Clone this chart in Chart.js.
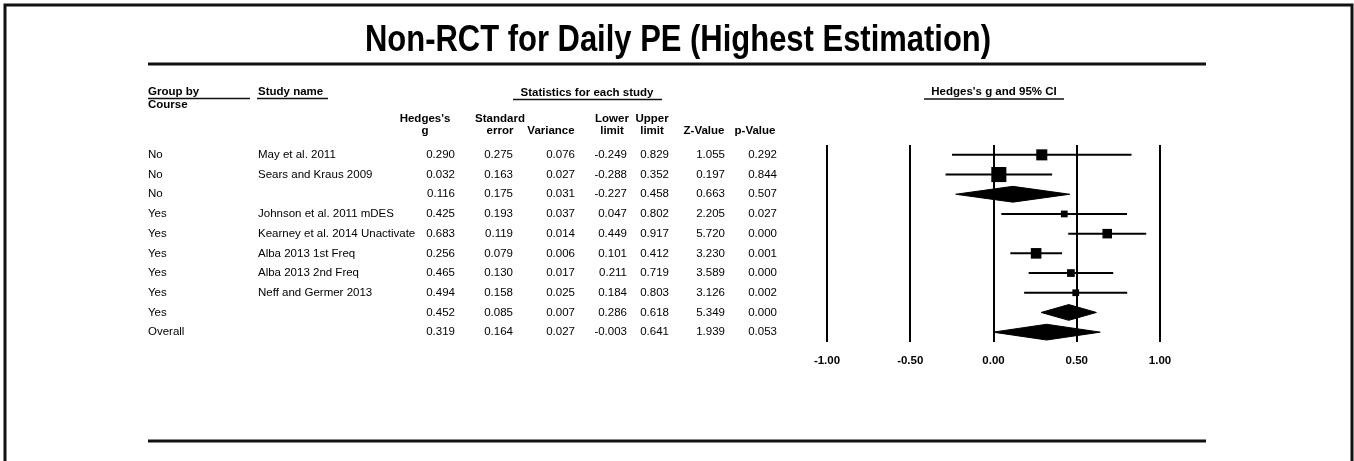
<!DOCTYPE html>
<html>
<head>
<meta charset="utf-8">
<script src="https://cdn.jsdelivr.net/npm/chart.js@4.4.1/dist/chart.umd.min.js"></script>
<style>
  html, body { margin: 0; padding: 0; background: #fff; }
  #wrap { width: 1354px; height: 461px; }
</style>
</head>
<body>
<div id="wrap"><canvas id="myChart" width="1354" height="461"></canvas></div>
<script>
//Table data, one entry per row (top to bottom)
const groups = ['No', 'No', 'No', 'Yes', 'Yes', 'Yes', 'Yes', 'Yes', 'Yes', 'Overall'];
const studies = ['May et al. 2011', 'Sears and Kraus 2009', '', 'Johnson et al. 2011 mDES',
   'Kearney et al. 2014 Unactivate', 'Alba 2013 1st Freq', 'Alba 2013 2nd Freq', 'Neff and Germer 2013', '', ''];
const hedgesG = [0.290, 0.032, 0.116, 0.425, 0.683, 0.256, 0.465, 0.494, 0.452, 0.319];
const stdError = [0.275, 0.163, 0.175, 0.193, 0.119, 0.079, 0.130, 0.158, 0.085, 0.164];
const variance = [0.076, 0.027, 0.031, 0.037, 0.014, 0.006, 0.017, 0.025, 0.007, 0.027];
const lowerLimit = [-0.249, -0.288, -0.227, 0.047, 0.449, 0.101, 0.211, 0.184, 0.286, -0.003];
const upperLimit = [0.829, 0.352, 0.458, 0.802, 0.917, 0.412, 0.719, 0.803, 0.618, 0.641];
const zValue = [1.055, 0.197, 0.663, 2.205, 5.720, 3.230, 3.589, 3.126, 5.349, 1.939];
const pValue = [0.292, 0.844, 0.507, 0.027, 0.000, 0.001, 0.000, 0.002, 0.000, 0.053];
//relative weight inside its subgroup (%), null for summary rows
const relWeight = [35, 65, null, 13, 26, 32, 17, 13, null, null];
const xTicks = [-1, -0.5, 0, 0.5, 1];

const FONT = '"Liberation Sans", Arial, sans-serif';
const rowOf = i => i + 1;
const isSummary = i => studies[i] === '';

//Build datasets from the arrays
const datasets = [];
hedgesG.forEach((g, i) => {
   if (isSummary(i)) {
      const h = 0.4; // half height of the diamond in row units
      datasets.push({
         type: 'line',
         data: [
            {x: lowerLimit[i], y: rowOf(i)},
            {x: g, y: rowOf(i) - h},
            {x: upperLimit[i], y: rowOf(i)},
            {x: g, y: rowOf(i) + h},
            {x: lowerLimit[i], y: rowOf(i)}
         ],
         borderColor: '#000',
         backgroundColor: '#000',
         borderWidth: 1,
         pointRadius: 0,
         tension: 0,
         fill: 'shape'
      });
   } else {
      datasets.push({
         type: 'line',
         data: [{x: lowerLimit[i], y: rowOf(i)}, {x: upperLimit[i], y: rowOf(i)}],
         borderColor: '#000',
         borderWidth: 2,
         pointRadius: 0,
         fill: false
      });
   }
});
const boxIdx = hedgesG.map((g, i) => i).filter(i => !isSummary(i));
datasets.push({
   type: 'scatter',
   data: boxIdx.map(i => ({x: hedgesG[i], y: rowOf(i)})),
   pointStyle: 'rect',
   pointRadius: boxIdx.map(i => 1.32 * Math.sqrt(relWeight[i])),
   backgroundColor: '#000',
   borderColor: '#000',
   borderWidth: 0
});

//Table / frame drawing
function txt(ctx, s, x, y, font, align, sx) {
   ctx.save();
   ctx.font = font;
   ctx.textAlign = align || 'left';
   ctx.textBaseline = 'middle';
   ctx.translate(x, y);
   ctx.scale(sx || 1, 1);   // condensed text
   ctx.fillText(s, 0, 0);
   ctx.restore();
}
function hline(ctx, x1, x2, y, w) {
   ctx.beginPath();
   ctx.lineWidth = w;
   ctx.moveTo(x1, y);
   ctx.lineTo(x2, y);
   ctx.stroke();
}

const tablePlugin = {
   id: 'tablePlugin',
   afterDraw(chart) {
      const ctx = chart.ctx;
      const yScale = chart.scales.y;
      ctx.save();
      ctx.fillStyle = '#000';
      ctx.strokeStyle = '#111';

      // frame
      ctx.lineWidth = 3;
      ctx.beginPath();
      ctx.moveTo(5, 461);
      ctx.lineTo(5, 5);
      ctx.lineTo(1352, 5);
      ctx.lineTo(1352, 461);
      ctx.stroke();

      // title and rules
      txt(ctx, 'Non-RCT for Daily PE (Highest Estimation)', 678, 41, 'bold 36px ' + FONT, 'center', 0.86);
      hline(ctx, 148, 1206, 64, 3);
      hline(ctx, 148, 1206, 441, 3);

      // headers
      const hb = 'bold 11.5px ' + FONT;
      txt(ctx, 'Group by', 148, 92, hb);
      hline(ctx, 148, 250, 98.5, 1.5);
      txt(ctx, 'Course', 148, 105, hb);
      txt(ctx, 'Study name', 258, 92, hb);
      hline(ctx, 257, 328, 98.5, 1.5);
      txt(ctx, 'Statistics for each study', 587, 93, hb, 'center');
      hline(ctx, 513, 662, 99.5, 1.5);
      txt(ctx, "Hedges's g and 95% CI", 994, 92, hb, 'center');
      hline(ctx, 924, 1064, 99, 1.5);

      const heads = [["Hedges's", 'g'], ['Standard', 'error'], ['', 'Variance'], ['Lower', 'limit'],
         ['Upper', 'limit'], ['', 'Z-Value'], ['', 'p-Value']];
      const colRight = [455, 513, 575, 627, 669, 725, 777];
      const headCenter = [425, 500, 551, 612, 652, 704, 755];
      heads.forEach((h, c) => {
         if (h[0]) txt(ctx, h[0], headCenter[c], 119, hb, 'center');
         txt(ctx, h[1], headCenter[c], 131, hb, 'center');
      });

      // rows
      const rf = '11.5px ' + FONT;
      const cols = [hedgesG, stdError, variance, lowerLimit, upperLimit, zValue, pValue];
      groups.forEach((grp, i) => {
         const y = yScale.getPixelForValue(rowOf(i));
         txt(ctx, grp, 148, y, rf);
         if (studies[i]) txt(ctx, studies[i], 258, y, rf);
         cols.forEach((arr, c) => txt(ctx, arr[i].toFixed(3), colRight[c], y, rf, 'right'));
      });
      ctx.restore();
   }
};

new Chart(document.getElementById('myChart'), {
   type: 'scatter',
   data: { datasets },
   options: {
      responsive: false,
      animation: false,
      devicePixelRatio: 1,
      layout: { padding: { left: 827, right: 194, top: 145, bottom: 89 } },
      scales: {
         x: {
            type: 'linear',
            min: -1,
            max: 1,
            afterBuildTicks: scale => { scale.ticks = xTicks.map(v => ({ value: v })); },
            afterFit: scale => { scale.height = 30; },
            ticks: {
               callback: v => v.toFixed(2),
               color: '#000',
               font: { family: FONT, size: 11.5, weight: 'bold' },
               padding: 12,
               maxRotation: 0
            },
            grid: { color: '#000', lineWidth: 2, drawTicks: false },
            border: { display: false }
         },
         y: {
            type: 'linear',
            display: false,
            min: 0.5,
            max: 10.5,
            reverse: true
         }
      },
      plugins: {
         legend: { display: false },
         tooltip: { enabled: false },
         title: { display: false }
      }
   },
   plugins: [tablePlugin]
});
</script>
</body>
</html>
